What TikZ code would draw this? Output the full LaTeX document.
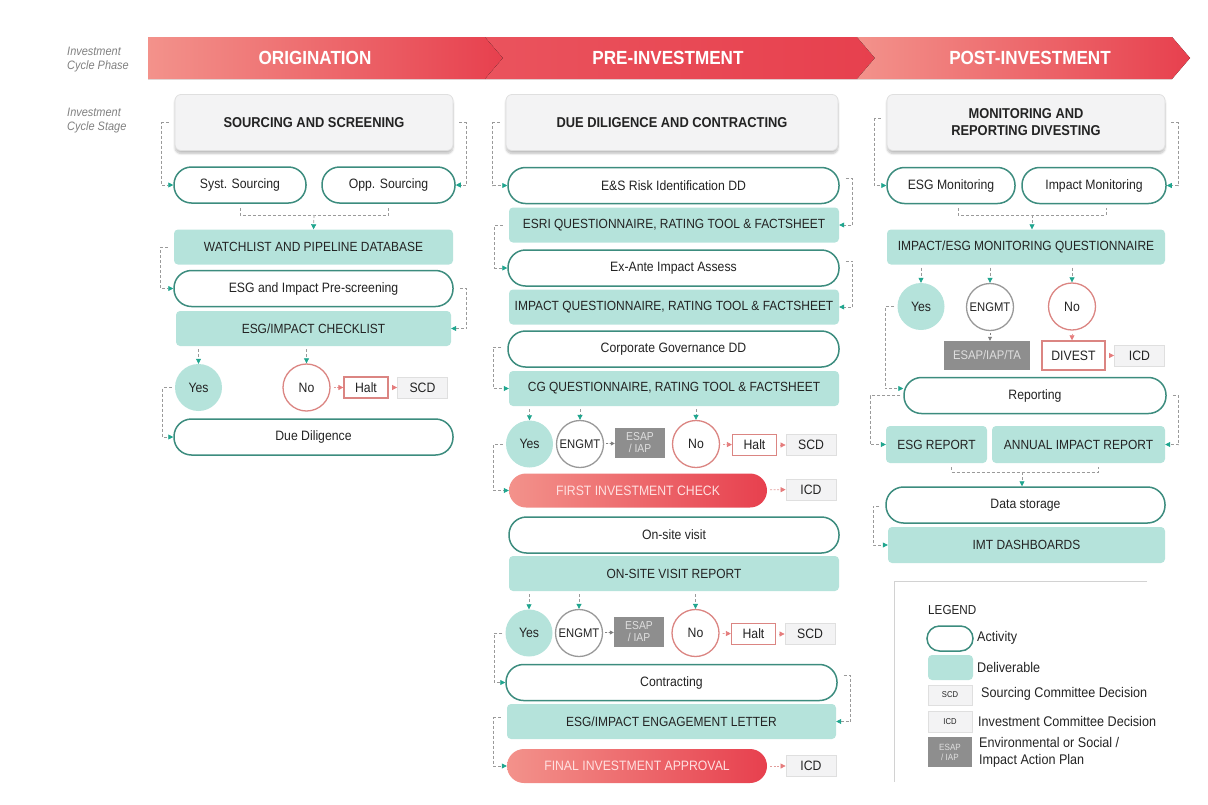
\documentclass[tikz,border=0pt]{standalone}
\usepackage{fontspec}
\setmainfont{Liberation Sans}[FakeStretch=0.9]
\usetikzlibrary{arrows.meta,shadows.blur}

\definecolor{delfill}{HTML}{B5E3DB}
\definecolor{actline}{HTML}{3C8C7E}
\definecolor{tipteal}{HTML}{1FA58E}
\definecolor{dashgray}{HTML}{9A9A9A}
\definecolor{nored}{HTML}{DB8582}
\definecolor{tipred}{HTML}{E57C7C}
\definecolor{boxgray}{HTML}{F3F3F4}
\definecolor{esapgray}{HTML}{8E8E8E}
\definecolor{redlight}{HTML}{F3928B}
\definecolor{reddark}{HTML}{E7404E}
\definecolor{redmid}{HTML}{EA535D}
\definecolor{pinktext}{HTML}{FFE1E1}
\definecolor{txt}{HTML}{232323}

\begin{document}
\begin{tikzpicture}[x=1pt, y=-1pt,
        every node/.style={text=txt, inner sep=0pt},
        activity/.style={rectangle, rounded corners=17.5pt, draw=actline, line width=1.5pt, fill=white, minimum width=#1pt, minimum height=36pt, font=\fontsize{13.6}{15}\selectfont},
        deliverable/.style={rectangle, rounded corners=4pt, fill=delfill, minimum width=#1pt, minimum height=35pt, font=\fontsize{13.3}{15}\selectfont},
        stagebox/.style={rectangle, rounded corners=6pt, fill=boxgray, draw=gray!25, line width=0.8pt, minimum width=#1pt, minimum height=56pt, align=center, font=\bfseries\fontsize{14.3}{17}\selectfont, blur shadow={shadow xshift=0pt, shadow yshift=-3pt, shadow blur steps=6, shadow opacity=25}},
        milestone/.style={rectangle, rounded corners=17pt, left color=redlight, right color=reddark, minimum width=#1pt, minimum height=34pt, text=pinktext, font=\fontsize{13.6}{15}\selectfont},
        yescirc/.style={circle, fill=delfill, minimum size=47pt, font=\fontsize{13.6}{15}\selectfont},
        engcirc/.style={circle, draw=gray!80, line width=1.3pt, fill=white, minimum size=47pt, font=\fontsize{12.5}{14}\selectfont},
        nocirc/.style={circle, draw=nored, line width=1.3pt, fill=white, minimum size=47pt, font=\fontsize{13.6}{15}\selectfont},
        haltbox/.style={rectangle, draw=nored, line width=1.2pt, fill=white, minimum width=44pt, minimum height=21pt, font=\fontsize{13.6}{15}\selectfont},
        committee/.style={rectangle, fill=boxgray, draw=gray!25, line width=0.8pt, minimum width=50pt, minimum height=21pt, font=\fontsize{13.6}{15}\selectfont},
        esap/.style={rectangle, fill=esapgray, minimum width=50pt, minimum height=30pt, align=center, text=gray!25, font=\fontsize{11.5}{12}\selectfont},
        phase/.style={text=white, font=\bfseries\fontsize{19}{21}\selectfont},
        sidelabel/.style={anchor=west, align=left, text=gray, font=\itshape\fontsize{12.2}{14}\selectfont},
        legendtext/.style={anchor=west, align=left, font=\fontsize{14}{16}\selectfont},
        flowline/.style={dashgray, line width=0.7pt, dash pattern=on 3pt off 2pt},
        flow/.style={flowline, -{Triangle[length=5pt, width=5pt, color=tipteal]}},
        redflow/.style={nored!80, line width=0.7pt, dash pattern=on 2pt off 1.5pt, shorten <=3pt, -{Triangle[length=5pt, width=5pt, color=tipred]}},
        grayflow/.style={gray, line width=0.7pt, dash pattern=on 2pt off 1.5pt, shorten <=2pt, -{Triangle[length=4pt, width=4pt, color=gray]}}
        ]

    \useasboundingbox (0,0) rectangle (1208,804);

    % phase banner
    \fill[left color=redlight, right color=reddark] (148,37) -- (485,37) -- (503,58) -- (485,79) -- (148,79) -- cycle;
    \fill[left color=redmid, right color=reddark] (485,37) -- (857,37) -- (875,58) -- (857,79) -- (485,79) -- (503,58) -- cycle;
    \fill[left color=redlight, right color=reddark] (857,37) -- (1172,37) -- (1190,58) -- (1172,79) -- (857,79) -- (875,58) -- cycle;
    \node (orig) at (315,58) [phase] {ORIGINATION};
    \node (pre) at (668,58) [phase] {PRE-INVESTMENT};
    \node (post) at (1030,58) [phase] {POST-INVESTMENT};

    \node (lphase) at (67,60) [sidelabel] {Investment\\Cycle Phase};
    \node (lstage) at (67,121) [sidelabel] {Investment\\Cycle Stage};

    % origination
    \node (ss) at (314,122.5) [stagebox=278] {SOURCING AND SCREENING};
    \node (syst) at (240,185) [activity=132] {Syst. Sourcing};
    \node (opp) at (388.5,185) [activity=133] {Opp. Sourcing};
    \node (watch) at (313.5,247) [deliverable=279] {WATCHLIST AND PIPELINE DATABASE};
    \node (prescr) at (313.5,288.5) [activity=279] {ESG and Impact Pre-screening};
    \node (check) at (313.5,328.5) [deliverable=275] {ESG/IMPACT CHECKLIST};
    \node (yes1) at (198.5,387.5) [yescirc] {Yes};
    \node (no1) at (306.5,387.5) [nocirc] {No};
    \node (halt1) at (366,387.5) [haltbox] {Halt};
    \node (scd1) at (422.5,387.5) [committee] {SCD};
    \node (dd) at (313.5,437) [activity=279] {Due Diligence};

    \draw[flow, shorten <=6pt] (ss.west) -- ++(-13,0) |- (syst.west);
    \draw[flow, shorten <=6pt] (ss.east) -- ++(13,0) |- (opp.east);
    \coordinate (m1) at (314,215);
    \draw[flowline, shorten <=4pt, shorten >=4pt] (syst.south) |- (m1) -| (opp.south);
    \draw[flow] (m1) -- (watch.north);
    \draw[flow, shorten <=6pt] (watch.west) -- ++(-13,0) |- (prescr.west);
    \draw[flow, shorten <=6pt] (prescr.east) -- ++(13,0) |- (check.east);
    \draw[flow, shorten <=3pt] (yes1.north |- check.south) -- (yes1.north);
    \draw[flow, shorten <=3pt] (no1.north |- check.south) -- (no1.north);
    \draw[redflow] (no1) -- (halt1);
    \draw[redflow] (halt1) -- (scd1);
    \draw[flow, shorten <=3pt] (yes1.west) -- ++(-12,0) |- (dd.west);

    % pre-investment
    \node (dc) at (672,122.5) [stagebox=332] {DUE DILIGENCE AND CONTRACTING};
    \node (esr) at (673.5,185.5) [activity=331] {E\&S Risk Identification DD};
    \node (esri) at (674,225) [deliverable=330] {ESRI QUESTIONNAIRE, RATING TOOL \& FACTSHEET};
    \node (exante) at (673.5,268) [activity=331] {Ex-Ante Impact Assess};
    \node (impq) at (674,307) [deliverable=330] {IMPACT QUESTIONNAIRE, RATING TOOL \& FACTSHEET};
    \node (cgdd) at (673.5,349) [activity=331] {Corporate Governance DD};
    \node (cgq) at (674,388.5) [deliverable=330] {CG QUESTIONNAIRE, RATING TOOL \& FACTSHEET};
    \node (yes2) at (529.5,444) [yescirc] {Yes};
    \node (engmt2) at (580,444) [engcirc] {ENGMT};
    \node (esap2) at (640,443) [esap] {ESAP\\/ IAP};
    \node (no2) at (696,444) [nocirc] {No};
    \node (halt2) at (754.5,445) [haltbox] {Halt};
    \node (scd2) at (811,445) [committee] {SCD};
    \node (fic) at (638,490.5) [milestone=258] {FIRST INVESTMENT CHECK};
    \node (icd2) at (811,489.5) [committee] {ICD};
    \node (onsite) at (674,535) [activity=330] {On-site visit};
    \node (osr) at (674,573.5) [deliverable=330] {ON-SITE VISIT REPORT};
    \node (yes3) at (529,633) [yescirc] {Yes};
    \node (engmt3) at (579,633) [engcirc] {ENGMT};
    \node (esap3) at (639,632) [esap] {ESAP\\/ IAP};
    \node (no3) at (695.5,633) [nocirc] {No};
    \node (halt3) at (753.5,634) [haltbox] {Halt};
    \node (scd3) at (810,634) [committee] {SCD};
    \node (contr) at (671.5,682.5) [activity=331] {Contracting};
    \node (letter) at (671.5,721.5) [deliverable=329] {ESG/IMPACT ENGAGEMENT LETTER};
    \node (fia) at (637,766) [milestone=260] {FINAL INVESTMENT APPROVAL};
    \node (icd3) at (811,766) [committee] {ICD};

    \draw[flow, shorten <=6pt] (dc.west) -- ++(-13,0) |- (esr.west);
    \draw[flow, shorten <=6pt] ([yshift=7pt]esr.east) -- ++(13,0) |- (esri.east);
    \draw[flow, shorten <=6pt] (esri.west) -- ++(-14,0) |- (exante.west);
    \draw[flow, shorten <=6pt] ([yshift=7pt]exante.east) -- ++(13,0) |- (impq.east);
    \draw[flow, shorten <=6pt] ([yshift=2pt]cgdd.west) -- ++(-14,0) |- (cgq.west);
    \draw[flow, shorten <=3pt] (yes2.north |- cgq.south) -- (yes2.north);
    \draw[flow, shorten <=3pt] (engmt2.north |- cgq.south) -- (engmt2.north);
    \draw[flow, shorten <=3pt] (no2.north |- cgq.south) -- (no2.north);
    \draw[grayflow] (engmt2) -- (esap2);
    \draw[redflow] (no2) -- (halt2);
    \draw[redflow] (halt2) -- (scd2);
    \draw[flow, shorten <=3pt] (yes2.west) -- ++(-12,0) |- (fic.west);
    \draw[redflow] (fic) -- (icd2);
    \draw[flow, shorten <=3pt] (yes3.north |- osr.south) -- (yes3.north);
    \draw[flow, shorten <=3pt] (engmt3.north |- osr.south) -- (engmt3.north);
    \draw[flow, shorten <=3pt] (no3.north |- osr.south) -- (no3.north);
    \draw[grayflow] (engmt3) -- (esap3);
    \draw[redflow] (no3) -- (halt3);
    \draw[redflow] (halt3) -- (scd3);
    \draw[flow, shorten <=3pt] (yes3.west) -- ++(-11,0) |- (contr.west);
    \draw[flow, shorten <=6pt] ([yshift=7pt]contr.east) -- ++(13,0) |- (letter.east);
    \draw[flow, shorten <=6pt] ([yshift=4pt]letter.west) -- ++(-13,0) |- (fia.west);
    \draw[redflow] (fia) -- (icd3);

    % post-investment
    \node (mr) at (1026,122.5) [stagebox=278] {MONITORING AND\\REPORTING DIVESTING};
    \node (esgm) at (951,185.5) [activity=128] {ESG Monitoring};
    \node (impm) at (1094,185.5) [activity=144] {Impact Monitoring};
    \node (mq) at (1026,247) [deliverable=278] {IMPACT/ESG MONITORING QUESTIONNAIRE};
    \node (yes4) at (921,306.5) [yescirc] {Yes};
    \node (engmt4) at (990,307) [engcirc] {ENGMT};
    \node (no4) at (1072,306.5) [nocirc] {No};
    \node (esap4) at (987,355.5) [esap, minimum width=86pt, minimum height=29pt, font=\fontsize{12.5}{14}\selectfont] {ESAP/IAP/TA};
    \node (divest) at (1073.5,355.5) [haltbox, minimum width=63pt, minimum height=29pt, line width=1.5pt] {DIVEST};
    \node (icd4) at (1139.5,355.5) [committee] {ICD};
    \node (rep) at (1035,395.5) [activity=262] {Reporting};
    \node (esgr) at (936.5,444.5) [deliverable=101, minimum height=37pt] {ESG REPORT};
    \node (air) at (1078.5,444.5) [deliverable=173, minimum height=37pt] {ANNUAL IMPACT REPORT};
    \node (dstore) at (1025.5,505) [activity=279] {Data storage};
    \node (imt) at (1026.5,545) [deliverable=277, minimum height=36pt] {IMT DASHBOARDS};

    \draw[flow, shorten <=6pt] ([yshift=4pt]mr.west) -- ++(-12,0) |- (esgm.west);
    \draw[flow, shorten <=6pt] (mr.east) -- ++(13,0) |- (impm.east);
    \coordinate (m3) at (1032,215);
    \draw[flowline, shorten <=4pt, shorten >=4pt] ([xshift=7pt]esgm.south) |- (m3) -| ([xshift=12pt]impm.south);
    \draw[flow] (m3) -- (m3 |- mq.north);
    \draw[flow, shorten <=3pt] (yes4.north |- mq.south) -- (yes4.north);
    \draw[flow, shorten <=3pt] (engmt4.north |- mq.south) -- (engmt4.north);
    \draw[flow, shorten <=3pt] (no4.north |- mq.south) -- (no4.north);
    \draw[grayflow] (engmt4.south) -- (engmt4.south |- esap4.north);
    \draw[redflow] (no4.south) -- (no4.south |- divest.north);
    \draw[redflow] (divest) -- (icd4);
    \draw[flow, shorten <=3pt] (yes4.west) -- ++(-12,0) |- ([yshift=7pt]rep.west);
    \draw[flow, shorten <=3pt] (rep.west) -- ++(-33,0) |- (esgr.west);
    \draw[flow, shorten <=6pt] (rep.east) -- ++(12,0) |- (air.east);
    \coordinate (m4) at (1022,472);
    \draw[flowline, shorten <=4pt, shorten >=4pt] ([xshift=15pt]esgr.south) |- (m4) -| ([xshift=20pt]air.south);
    \draw[flow] (m4) -- (m4 |- dstore.north);
    \draw[flow, shorten <=6pt] ([yshift=-1pt]dstore.west) -- ++(-12,0) |- (imt.west);

    % legend
    \draw[gray!35, line width=1pt] (1147,581) -- (894,581) -- (894,782);
    \node (legtitle) at (928,610) [anchor=west, font=\fontsize{13}{15}\selectfont] {LEGEND};
    \node (legact) at (950,638.5) [activity=46, minimum height=25pt, rounded corners=12.5pt] {};
    \node (legdel) at (950.5,667.5) [deliverable=45, minimum height=25pt] {};
    \node (legscd) at (950,695) [committee, minimum width=44pt, minimum height=20pt, font=\fontsize{8.5}{9}\selectfont] {SCD};
    \node (legicd) at (950,721.5) [committee, minimum width=44pt, minimum height=21pt, font=\fontsize{8.5}{9}\selectfont] {ICD};
    \node (legesap) at (950,752) [esap, minimum width=44pt, minimum height=30pt, font=\fontsize{9}{10}\selectfont] {ESAP\\/ IAP};
    \node (legacttxt) at (977,638) [legendtext] {Activity};
    \node (legdeltxt) at (977,667) [legendtext] {Deliverable};
    \node (legscdtxt) at (981,694) [legendtext] {Sourcing Committee Decision};
    \node (legicdtxt) at (978,721) [legendtext] {Investment Committee Decision};
    \node (legesaptxt) at (979,752) [legendtext, font=\fontsize{14}{17}\selectfont] {Environmental or Social /\\Impact Action Plan};
\end{tikzpicture}
\end{document}
